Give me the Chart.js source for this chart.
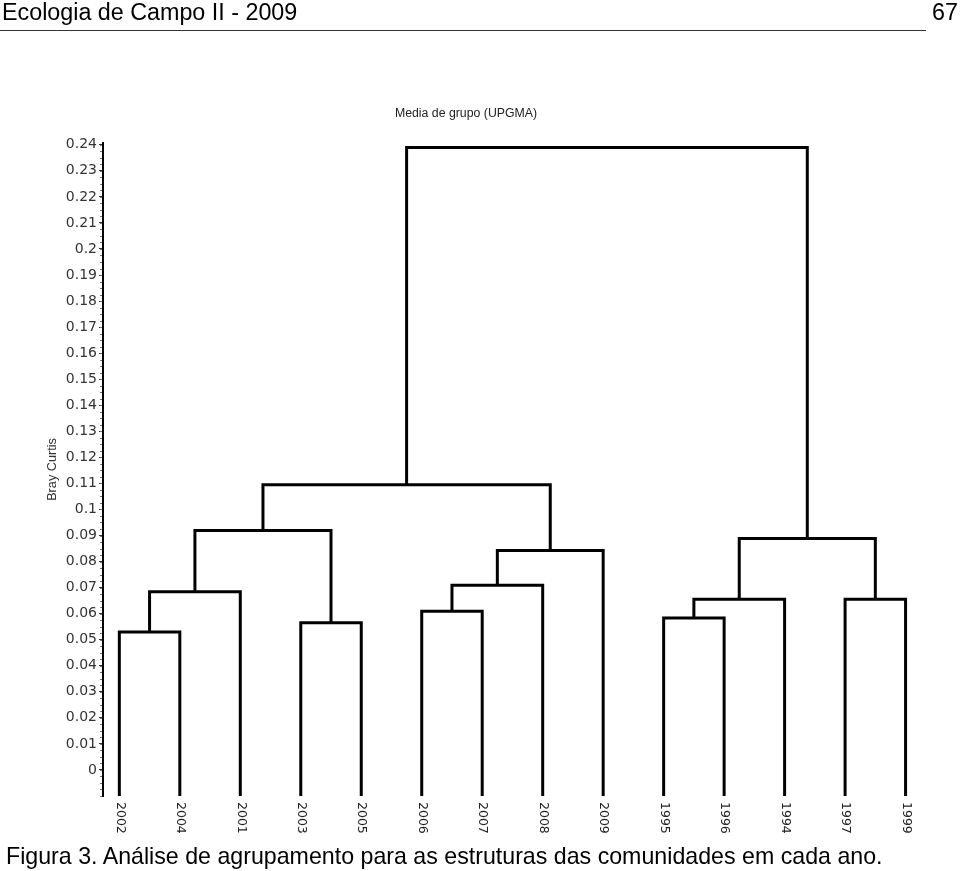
<!DOCTYPE html>
<html>
<head>
<meta charset="utf-8">
<script src="https://cdn.jsdelivr.net/npm/chart.js@4.4.1/dist/chart.umd.min.js"></script>
<style>
  html, body { margin: 0; padding: 0; background: #fff; }
  body { width: 960px; height: 871px; position: relative; overflow: hidden; font-family: "Liberation Sans", Arial, sans-serif; }
  #wrap { position: absolute; left: 0; top: 0; width: 960px; height: 871px; }
  .txt { position: absolute; color: #000; white-space: nowrap; z-index: 2; }
  #head { left: 2px; top: -1px; font-size: 23.3px; }
  #page { right: 2px; top: -1px; font-size: 23.3px; }
  #rule { position: absolute; left: 0; top: 30px; width: 926px; height: 0; border-top: 1px solid #333; }
  #cap { left: 6px; top: 843px; font-size: 23.2px; }
</style>
</head>
<body>
<div class="txt" id="head">Ecologia de Campo II - 2009</div>
<div class="txt" id="page">67</div>
<div id="rule"></div>
<div id="wrap"><canvas id="c" width="960" height="871"></canvas></div>
<div class="txt" id="cap">Figura 3. Análise de agrupamento para as estruturas das comunidades em cada ano.</div>
<script>
// ---- data ----
const leaves = ['2002','2004','2001','2003','2005','2006','2007','2008','2009','1995','1996','1994','1997','1999'];
// merge steps: node ids < 14 are leaves, ids >= 14 are previous merges (14 + index)
const mergeLeft   = [0, 14, 3, 15, 5, 18, 19, 17, 9, 22, 12, 23, 21];
const mergeRight  = [1, 2, 4, 16, 6, 7, 8, 20, 10, 11, 13, 24, 25];
const mergeHeight = [0.053, 0.0684, 0.0565, 0.0919, 0.0609, 0.0709, 0.0842, 0.1095, 0.0583, 0.0655, 0.0655, 0.0889, 0.2390];
const yTicks = [0,0.01,0.02,0.03,0.04,0.05,0.06,0.07,0.08,0.09,0.1,0.11,0.12,0.13,0.14,0.15,0.16,0.17,0.18,0.19,0.2,0.21,0.22,0.23,0.24];
const yTickLabels = ['0','0.01','0.02','0.03','0.04','0.05','0.06','0.07','0.08','0.09','0.1','0.11','0.12','0.13','0.14','0.15','0.16','0.17','0.18','0.19','0.2','0.21','0.22','0.23','0.24'];
const Y_MIN = -0.01, Y_MAX = 0.2407;

// ---- build dendrogram segments ----
const nodeX = leaves.map((_, i) => i);
const nodeH = leaves.map(() => Y_MIN);
const datasets = [];
for (let m = 0; m < mergeHeight.length; m++) {
  const a = mergeLeft[m], b = mergeRight[m], h = mergeHeight[m];
  datasets.push({
    data: [{x: nodeX[a], y: nodeH[a]}, {x: nodeX[a], y: h}, {x: nodeX[b], y: h}, {x: nodeX[b], y: nodeH[b]}],
    showLine: true, borderColor: '#000', borderWidth: 3, pointRadius: 0, pointHoverRadius: 0,
    borderJoinStyle: 'miter', borderCapStyle: 'butt', fill: false, tension: 0
  });
  nodeX.push((nodeX[a] + nodeX[b]) / 2);
  nodeH.push(h);
}

const leafLabels = {
  id: 'leafLabels',
  afterDraw(chart) {
    const ctx = chart.ctx, xs = chart.scales.x;
    ctx.save();
    ctx.font = '12.5px "DejaVu Sans"';
    ctx.fillStyle = '#222';
    ctx.textAlign = 'left';
    ctx.textBaseline = 'middle';
    leaves.forEach((lab, i) => {
      const x = xs.getPixelForValue(i);
      ctx.save();
      ctx.translate(x + 0.5, chart.chartArea.bottom + 6);
      ctx.rotate(Math.PI / 2);
      ctx.fillText(lab, 0, 0);
      ctx.restore();
    });
    ctx.restore();
  }
};

const minorTicks = {
  id: 'minorTicks',
  afterDraw(chart) {
    const ctx = chart.ctx, ys = chart.scales.y;
    const left = chart.chartArea.left;
    ctx.save();
    ctx.strokeStyle = '#777';
    ctx.lineWidth = 1;
    for (let k = -4; k <= 96; k++) {
      const v = k * 0.0025;
      if (v > Y_MAX) break;
      const y = Math.round(ys.getPixelForValue(v)) + 0.5;
      ctx.beginPath();
      ctx.moveTo(left - 3, y);
      ctx.lineTo(left - 1, y);
      ctx.stroke();
    }
    ctx.restore();
  }
};

new Chart(document.getElementById('c'), {
  type: 'scatter',
  data: { datasets },
  plugins: [leafLabels, minorTicks],
  options: {
    responsive: false,
    animation: false,
    layout: { padding: { left: 0, right: 28, top: 0, bottom: 75 } },
    plugins: {
      legend: { display: false },
      tooltip: { enabled: false },
      title: {
        display: true,
        text: 'Media de grupo (UPGMA)',
        color: '#222',
        font: { family: 'Liberation Sans', size: 12.3, weight: 'normal', lineHeight: 1.2 },
        padding: { top: 106.6, bottom: 21.6 }
      }
    },
    scales: {
      x: {
        type: 'linear', min: -0.27, max: 13.437, display: false
      },
      y: {
        type: 'linear', min: Y_MIN, max: Y_MAX,
        afterFit(scale) { scale.width = 103; },
        afterBuildTicks(scale) { scale.ticks = yTicks.map(v => ({ value: v })); },
        ticks: {
          autoSkip: false,
          color: '#333',
          padding: 2,
          font: { family: 'DejaVu Sans', size: 14 },
          callback: (v, i) => yTickLabels[i]
        },
        grid: { drawOnChartArea: false, drawTicks: true, tickLength: 4, tickColor: '#333', tickWidth: 1 },
        border: { display: true, color: '#000', width: 2 },
        title: {
          display: true, text: 'Bray Curtis', color: '#333',
          font: { family: 'Liberation Sans', size: 12.7, lineHeight: 1.2 },
          padding: { top: 44.6, bottom: 0 }
        }
      }
    }
  }
});
</script>
</body>
</html>
